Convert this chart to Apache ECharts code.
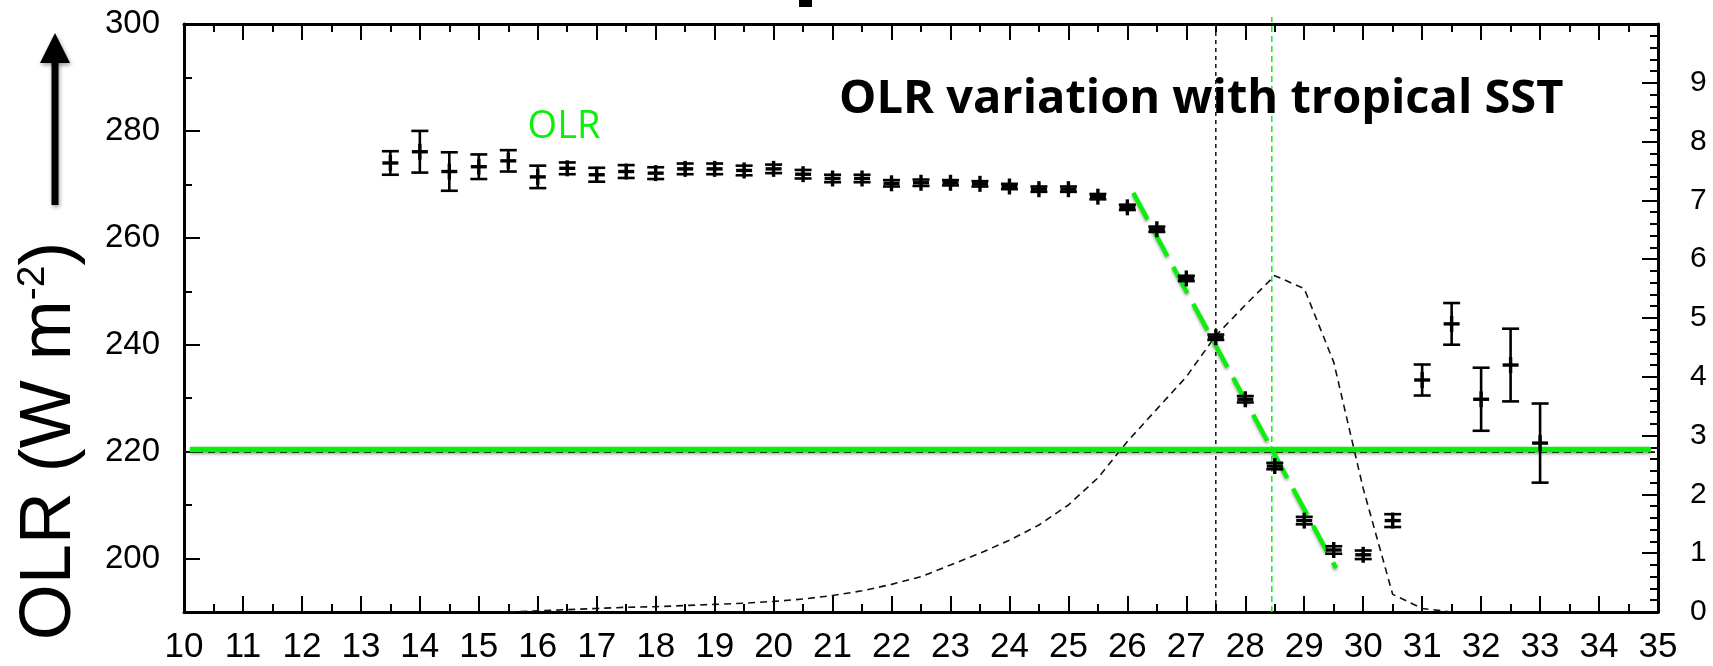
<!DOCTYPE html>
<html><head><meta charset="utf-8">
<script src="https://cdn.jsdelivr.net/npm/echarts@6/dist/echarts.min.js"></script>
<style>html,body{margin:0;padding:0;background:#fff}#c{width:1713px;height:666px}</style>
</head><body><div id="c"></div>
<script>
// ---- data ----
const sstBins = [13.5,14,14.5,15,15.5,16,16.5,17,17.5,18,18.5,19,19.5,20,20.5,21,21.5,22,22.5,23,23.5,24,24.5,25,25.5,26,26.5,27,27.5,28,28.5,29,29.5,30,30.5,31,31.5,32,32.5,33];
const olrMean = [274.0,276.1,272.4,273.3,274.4,271.4,273.0,271.8,272.4,272.1,272.9,272.9,272.6,272.9,271.9,271.1,271.1,270.2,270.3,270.3,270.1,269.6,269.1,269.1,267.7,265.7,261.6,252.4,241.4,229.8,217.3,207.1,201.6,200.7,207.1,233.4,243.9,229.8,236.2,221.6];
const olrErr = [2.2,3.9,3.6,2.3,2.0,2.1,1.1,1.3,1.2,1.1,1.0,1.0,0.9,0.8,0.8,0.7,0.7,0.6,0.6,0.5,0.5,0.5,0.5,0.5,0.5,0.5,0.5,0.5,0.5,0.6,0.6,0.7,0.7,0.8,1.2,2.9,3.9,5.9,6.8,7.4];
const freqSst = [15.5,16,16.5,17,17.5,18,18.5,19,19.5,20,20.5,21,21.5,22,22.5,23,23.5,24,24.5,25,25.5,26,26.5,27,27.5,28,28.5,29,29.5,30,30.5,31,31.5];
const freqVals = [0,0.02,0.04,0.06,0.08,0.09,0.11,0.13,0.15,0.18,0.22,0.28,0.36,0.47,0.6,0.8,1.0,1.22,1.48,1.82,2.28,2.9,3.45,4.0,4.7,5.22,5.72,5.5,4.25,2.1,0.3,0.06,0.0];
const fitX = [26.1, 29.54];
const fitY = [268.4, 198.2];
const olrThreshold = 220.4;
const olrRef = 219.9;
const sstThreshold = 28.45;
const sstRef = 27.5;
const xRange = [10, 35];
const leftRange = [190, 300];
const rightRange = [0, 10];
const leftTicks = [200, 220, 240, 260, 280, 300];
const titleText = 'OLR variation with tropical SST';
const seriesLabel = 'OLR';

const GREEN = '#0bf00b';
const chart = echarts.init(document.getElementById('c'));

function renderErr(params, api) {
  const x = api.value(0), m = api.value(1), e = api.value(2);
  const c = api.coord([x, m]);
  const hi = api.coord([x, m + e]);
  const lo = api.coord([x, m - e]);
  const cw = 8.5, pw = 8;
  const st = {stroke: '#000', lineWidth: 2.6};
  const bd = {stroke: '#000', lineWidth: 3.4};
  return {type: 'group', children: [
    {type: 'line', shape: {x1: c[0], y1: hi[1], x2: c[0], y2: lo[1]}, style: st},
    {type: 'line', shape: {x1: c[0]-cw, y1: hi[1], x2: c[0]+cw, y2: hi[1]}, style: st},
    {type: 'line', shape: {x1: c[0]-cw, y1: lo[1], x2: c[0]+cw, y2: lo[1]}, style: st},
    {type: 'line', shape: {x1: c[0]-pw, y1: c[1], x2: c[0]+pw, y2: c[1]}, style: bd},
    {type: 'line', shape: {x1: c[0], y1: c[1]-pw, x2: c[0], y2: c[1]+pw}, style: bd}
  ]};
}

const axLine = {show: true, lineStyle: {color: '#000', width: 3}};
const tickStyle = {color: '#000', width: 2};

const option = {
  backgroundColor: '#fff',
  animation: false,
  grid: {left: 184, right: 55, top: 24, bottom: 54, containLabel: false},
  xAxis: [
    {type: 'value', position: 'bottom', min: xRange[0], max: xRange[1], interval: 1,
      axisLine: axLine, splitLine: {show: false},
      axisTick: {inside: true, length: 16, lineStyle: tickStyle},
      minorTick: {show: true, splitNumber: 2, length: 8, lineStyle: tickStyle},
      axisLabel: {fontSize: 35, fontFamily: 'Liberation Sans', color: '#000', margin: 18, showMinLabel: true, showMaxLabel: true}},
    {type: 'value', position: 'top', min: xRange[0], max: xRange[1], interval: 1,
      axisLine: axLine, splitLine: {show: false},
      axisTick: {inside: true, length: 16, lineStyle: tickStyle},
      minorTick: {show: true, splitNumber: 2, length: 8, lineStyle: tickStyle},
      axisLabel: {show: false}}
  ],
  yAxis: [
    {type: 'value', position: 'left', min: leftRange[0], max: leftRange[1], interval: 10,
      axisLine: axLine, splitLine: {show: false},
      axisTick: {inside: true, length: 8, lineStyle: tickStyle},
      axisLabel: {show: false}},
    {type: 'value', position: 'left', min: leftRange[0], max: leftRange[1], interval: 10,
      axisLine: {show: false}, splitLine: {show: false},
      axisTick: {inside: true, length: 16, lineStyle: tickStyle, customValues: leftTicks},
      axisLabel: {customValues: leftTicks, fontSize: 33, fontFamily: 'Liberation Sans', color: '#000', margin: 24}},
    {type: 'value', position: 'right', min: rightRange[0], max: rightRange[1], interval: 1,
      axisLine: axLine, splitLine: {show: false},
      axisTick: {inside: true, length: 16, lineStyle: tickStyle},
      minorTick: {show: true, splitNumber: 5, length: 8, lineStyle: tickStyle},
      axisLabel: {fontSize: 30, fontFamily: 'Liberation Sans', color: '#000', margin: 32, align: 'left',
        formatter: v => (v === rightRange[1] ? '' : String(v))}}
  ],
  series: [
    {type: 'line', name: 'sstRef', xAxisIndex: 0, yAxisIndex: 0, symbol: 'none', silent: true,
      data: [[sstRef, leftRange[0]], [sstRef, leftRange[1]]],
      lineStyle: {color: '#111', width: 1.5, type: [4, 4]}, z: 2},
    {type: 'line', name: 'olrRef', xAxisIndex: 0, yAxisIndex: 0, symbol: 'none', silent: true,
      data: [[xRange[0], olrRef], [xRange[1], olrRef]],
      lineStyle: {color: '#111', width: 1.6, type: [7, 5]}, z: 2},
    {type: 'line', name: 'freq', xAxisIndex: 0, yAxisIndex: 2, symbol: 'none', silent: true,
      data: freqSst.map((x, i) => [x, freqVals[i]]),
      lineStyle: {color: '#111', width: 1.6, type: [7, 5]}, z: 3},
    {type: 'line', name: 'threshold', xAxisIndex: 0, yAxisIndex: 0, symbol: 'none', silent: true,
      data: [[10.1, olrThreshold], [34.88, olrThreshold]],
      lineStyle: {color: GREEN, width: 5.5, shadowColor: 'rgba(0,0,0,0.35)', shadowBlur: 3, shadowOffsetY: 2}, z: 4},
    {type: 'line', name: 'sstThr', xAxisIndex: 0, yAxisIndex: 0, symbol: 'none', silent: true, clip: false,
      data: [[sstThreshold, leftRange[0]], [sstThreshold, 301.3]],
      lineStyle: {color: GREEN, width: 1.5, type: [6, 4]}, z: 4},
    {type: 'line', name: 'fit', xAxisIndex: 0, yAxisIndex: 0, symbol: 'none', silent: true,
      data: fitX.map((x, i) => [x, fitY[i]]),
      lineStyle: {color: GREEN, width: 4.5, type: [30, 12], shadowColor: 'rgba(0,0,0,0.35)', shadowBlur: 3, shadowOffsetY: 2}, z: 5},
    {type: 'custom', name: 'olr', xAxisIndex: 0, yAxisIndex: 0, renderItem: renderErr,
      encode: {x: 0, y: 1}, data: sstBins.map((x, i) => [x, olrMean[i], olrErr[i]]), z: 6}
  ],
  graphic: [
    {type: 'text', x: 839, y: 100, z: 10,
      style: {text: titleText, fill: '#000', font: 'bold 47px "Open Sans"', textAlign: 'left', textVerticalAlign: 'middle'}},
    {type: 'text', x: 564, y: 127, z: 10,
      style: {text: seriesLabel, fill: GREEN, font: '38px "Open Sans"', textAlign: 'center', textVerticalAlign: 'middle'}},
    {type: 'text', x: 50, y: 441, rotation: Math.PI / 2, z: 10,
      style: {text: '{m|OLR (W m}{s|-2}{m|)}', fill: '#000', textAlign: 'center', textVerticalAlign: 'middle',
        rich: {m: {fontSize: 72, fontFamily: 'Liberation Sans', lineHeight: 72, fill: '#000'},
               s: {fontSize: 39, fontFamily: 'Liberation Sans', lineHeight: 39, verticalAlign: 'top', fill: '#000'}}}},
    {type: 'rect', shape: {x: 51.5, y: 60, width: 7, height: 145}, z: 10,
      style: {fill: '#000', shadowColor: 'rgba(0,0,0,0.4)', shadowBlur: 4, shadowOffsetX: 1, shadowOffsetY: 2}},
    {type: 'polygon', shape: {points: [[55, 33], [40, 63], [70, 63]]}, z: 10,
      style: {fill: '#000', shadowColor: 'rgba(0,0,0,0.4)', shadowBlur: 4, shadowOffsetX: 1, shadowOffsetY: 2}},
    {type: 'rect', shape: {x: 799, y: 0, width: 13, height: 7}, z: 10, style: {fill: '#000'}}
  ]
};
chart.setOption(option);
</script>
</body></html>
